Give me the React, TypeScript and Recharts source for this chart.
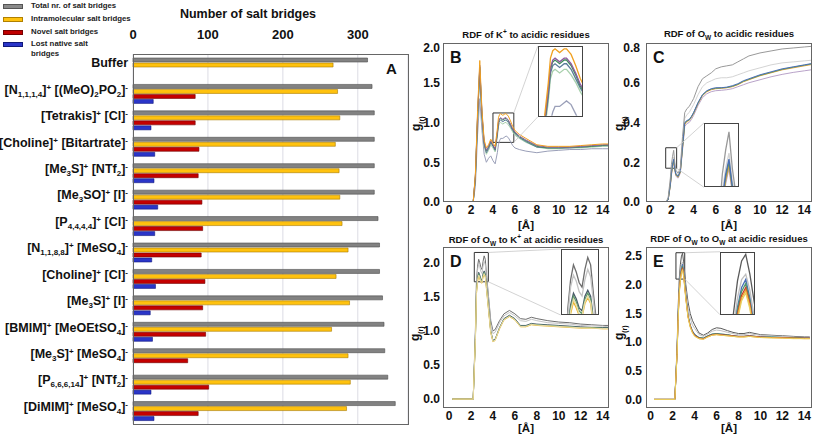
import React from 'react'
import {
  BarChart, Bar, LineChart, Line, XAxis, YAxis, CartesianGrid,
  ReferenceArea, ReferenceLine,
} from 'recharts'

const FONT = '"Liberation Sans", Arial, sans-serif'

// ── Panel A: salt bridges per ionic liquid ───────────────
const ionicLiquids = [
  'Buffer',
  '[N_{1,1,1,4}]^{+} [(MeO)_{2}PO_{2}]^{-}',
  '[Tetrakis]^{+} [Cl]^{-}',
  '[Choline]^{+} [Bitartrate]^{-}',
  '[Me_{3}S]^{+} [NTf_{2}]^{-}',
  '[Me_{3}SO]^{+} [I]^{-}',
  '[P_{4,4,4,4}]^{+} [Cl]^{-}',
  '[N_{1,1,8,8}]^{+} [MeSO_{4}]^{-}',
  '[Choline]^{+} [Cl]^{-}',
  '[Me_{3}S]^{+} [I]^{-}',
  '[BMIM]^{+} [MeOEtSO_{4}]^{-}',
  '[Me_{3}S]^{+} [MeSO_{4}]^{-}',
  '[P_{6,6,6,14}]^{+} [NTf_{2}]^{-}',
  '[DiMIM]^{+} [MeSO_{4}]^{-}',
]
const totalBridges = [313, 319, 322, 322, 322, 322, 327, 329, 329, 333, 335, 336, 340, 350]
const intraBridges = [267, 273, 276, 270, 275, 276, 279, 287, 271, 289, 265, 287, 290, 285]
const novelBridges = [null, 83, 83, 88, 87, 92, 93, 91, 96, 93, 97, 73, 101, 87]
const lostBridges = [null, 27, 24, 29, 28, 33, 29, 25, 30, 23, 26, null, 24, 28]
const bridgeTicks = [0, 100, 200, 300]

// ── Panel B: RDF of K+ to acidic residues ────────────────
const rB = [2.2, 2.4, 2.6, 2.8, 3.0, 3.2, 3.4, 3.6, 3.8, 4.0, 4.2, 4.4, 4.5, 4.6, 4.7, 4.9, 5.1, 5.2, 5.4, 5.6, 5.8, 6.0, 6.4, 7, 8, 9, 10, 11, 12, 13, 14, 14.5]
const bOrange = [0, 0.35, 1.15, 1.78, 1.15, 0.78, 0.68, 0.72, 0.79, 0.74, 0.7, 0.92, 1.06, 1.1, 1.11, 1.09, 1.11, 1.11, 1.08, 1.02, 0.95, 0.9, 0.85, 0.8, 0.72, 0.7, 0.7, 0.7, 0.71, 0.72, 0.73, 0.73]
const bPurple = [0, 0.33, 1.1, 1.72, 1.12, 0.75, 0.65, 0.7, 0.77, 0.72, 0.67, 0.88, 1.01, 1.05, 1.06, 1.04, 1.06, 1.06, 1.03, 0.98, 0.92, 0.88, 0.83, 0.78, 0.71, 0.69, 0.69, 0.69, 0.7, 0.71, 0.72, 0.72]
const bGreen = [0, 0.32, 1.08, 1.7, 1.1, 0.74, 0.64, 0.69, 0.76, 0.71, 0.66, 0.87, 1.0, 1.04, 1.05, 1.03, 1.05, 1.05, 1.02, 0.97, 0.91, 0.87, 0.82, 0.77, 0.7, 0.68, 0.68, 0.69, 0.69, 0.7, 0.71, 0.72]
const bSlate = [0, 0.31, 1.05, 1.68, 1.08, 0.72, 0.62, 0.67, 0.75, 0.7, 0.65, 0.85, 0.98, 1.02, 1.03, 1.01, 1.03, 1.03, 1.0, 0.95, 0.9, 0.86, 0.81, 0.76, 0.69, 0.68, 0.68, 0.68, 0.69, 0.7, 0.71, 0.71]
const bMint = [0, 0.3, 1.02, 1.62, 1.04, 0.7, 0.6, 0.65, 0.72, 0.68, 0.63, 0.82, 0.95, 0.99, 1.0, 0.98, 1.0, 1.0, 0.97, 0.93, 0.88, 0.84, 0.8, 0.75, 0.69, 0.67, 0.67, 0.68, 0.68, 0.69, 0.7, 0.7]
const bBuffer = [0, 0.2, 0.85, 1.3, 0.9, 0.6, 0.5, 0.55, 0.58, 0.52, 0.48, 0.62, 0.72, 0.77, 0.8, 0.8, 0.82, 0.83, 0.81, 0.76, 0.71, 0.68, 0.66, 0.64, 0.62, 0.64, 0.65, 0.66, 0.66, 0.67, 0.67, 0.67]

// ── Panel C: RDF of Ow to acidic residues ────────────────
const rC = [0, 1.5, 1.7, 1.9, 2.0, 2.1, 2.2, 2.3, 2.4, 2.6, 2.8, 3.0, 3.2, 3.4, 3.6, 3.8, 4.0, 4.4, 4.8, 5.2, 5.6, 6.0, 6.5, 7.0, 7.5, 8.0, 8.5, 9.0, 10, 11, 12, 13, 14, 15]
const cBuffer = [0, 0, 0.02, 0.12, 0.19, 0.23, 0.26, 0.2, 0.16, 0.145, 0.17, 0.33, 0.45, 0.47, 0.48, 0.5, 0.52, 0.58, 0.62, 0.635, 0.65, 0.67, 0.68, 0.685, 0.69, 0.705, 0.72, 0.735, 0.75, 0.76, 0.77, 0.775, 0.78, 0.785]
const cLight = [0, 0, 0.015, 0.1, 0.16, 0.2, 0.225, 0.18, 0.15, 0.135, 0.16, 0.3, 0.42, 0.44, 0.45, 0.47, 0.49, 0.54, 0.58, 0.6, 0.61, 0.62, 0.625, 0.625, 0.63, 0.64, 0.65, 0.66, 0.675, 0.69, 0.7, 0.705, 0.71, 0.715]
const cBlue = [0, 0, 0.012, 0.09, 0.15, 0.19, 0.215, 0.17, 0.14, 0.13, 0.155, 0.28, 0.4, 0.41, 0.415, 0.43, 0.45, 0.5, 0.54, 0.56, 0.57, 0.575, 0.575, 0.578, 0.585, 0.595, 0.61, 0.62, 0.64, 0.655, 0.67, 0.68, 0.69, 0.7]
const cGreen = [0, 0, 0.011, 0.088, 0.145, 0.185, 0.21, 0.168, 0.138, 0.128, 0.152, 0.275, 0.395, 0.408, 0.412, 0.428, 0.448, 0.498, 0.538, 0.558, 0.568, 0.572, 0.574, 0.576, 0.582, 0.592, 0.607, 0.617, 0.637, 0.652, 0.667, 0.678, 0.688, 0.698]
const cOrange = [0, 0, 0.01, 0.085, 0.14, 0.18, 0.205, 0.165, 0.135, 0.125, 0.15, 0.27, 0.39, 0.405, 0.41, 0.425, 0.445, 0.495, 0.535, 0.555, 0.565, 0.57, 0.572, 0.575, 0.58, 0.59, 0.605, 0.615, 0.635, 0.65, 0.665, 0.675, 0.685, 0.695]
const cPurple = [0, 0, 0.01, 0.08, 0.135, 0.175, 0.2, 0.16, 0.13, 0.12, 0.145, 0.26, 0.38, 0.395, 0.4, 0.415, 0.435, 0.485, 0.525, 0.545, 0.555, 0.56, 0.562, 0.565, 0.57, 0.58, 0.59, 0.6, 0.615, 0.63, 0.642, 0.652, 0.66, 0.668]

// ── Panel D: RDF of Ow to K+ at acidic residues ──────────
const rD = [0.3, 2.2, 2.4, 2.5, 2.6, 2.7, 2.8, 2.9, 3.0, 3.1, 3.2, 3.3, 3.4, 3.6, 3.8, 4.0, 4.2, 4.6, 5.0, 5.5, 6.0, 6.5, 7.0, 7.5, 8.0, 9, 10, 11, 12, 13, 14, 14.5]
const dBuffer = [0, 0, 1.0, 1.75, 1.95, 2.05, 2.0, 1.93, 1.9, 2.02, 2.1, 2.05, 1.85, 1.5, 1.15, 1.0, 1.02, 1.15, 1.25, 1.3, 1.25, 1.18, 1.17, 1.2, 1.18, 1.15, 1.13, 1.12, 1.1, 1.09, 1.08, 1.08]
const dLight = [0, 0, 0.95, 1.7, 1.9, 1.98, 1.94, 1.87, 1.84, 1.95, 2.02, 1.97, 1.8, 1.45, 1.1, 0.96, 0.98, 1.12, 1.22, 1.27, 1.22, 1.15, 1.14, 1.17, 1.15, 1.12, 1.11, 1.1, 1.08, 1.07, 1.07, 1.06]
const dSlate = [0, 0, 0.9, 1.6, 1.78, 1.86, 1.82, 1.76, 1.74, 1.84, 1.88, 1.84, 1.68, 1.35, 1.0, 0.86, 0.88, 1.05, 1.18, 1.23, 1.18, 1.08, 1.08, 1.11, 1.1, 1.09, 1.08, 1.07, 1.06, 1.05, 1.05, 1.05]
const dGreen = [0, 0, 0.88, 1.58, 1.76, 1.84, 1.8, 1.74, 1.72, 1.82, 1.86, 1.82, 1.66, 1.33, 0.99, 0.85, 0.87, 1.04, 1.17, 1.22, 1.17, 1.07, 1.07, 1.1, 1.09, 1.08, 1.07, 1.06, 1.05, 1.05, 1.04, 1.04]
const dYellow = [0, 0, 0.86, 1.55, 1.72, 1.8, 1.76, 1.71, 1.7, 1.79, 1.83, 1.79, 1.63, 1.3, 0.97, 0.84, 0.86, 1.03, 1.16, 1.21, 1.16, 1.06, 1.06, 1.09, 1.08, 1.07, 1.06, 1.05, 1.04, 1.04, 1.03, 1.03]
const dCream = [0, 0, 0.87, 1.56, 1.74, 1.82, 1.78, 1.72, 1.71, 1.8, 1.84, 1.8, 1.64, 1.31, 0.98, 0.845, 0.865, 1.035, 1.165, 1.215, 1.165, 1.065, 1.065, 1.095, 1.085, 1.075, 1.065, 1.055, 1.045, 1.04, 1.035, 1.035]

// ── Panel E: RDF of Ow to Ow at acidic residues ──────────
const rE = [0.3, 2.2, 2.4, 2.5, 2.6, 2.7, 2.8, 2.9, 3.0, 3.2, 3.4, 3.6, 3.8, 4.0, 4.4, 4.8, 5.2, 5.6, 6.0, 6.4, 7.0, 7.5, 8.0, 8.5, 9.0, 9.5, 10, 11, 12, 13, 14, 14.5]
const eBuffer = [0, 0, 0.9, 1.6, 2.1, 2.35, 2.5, 2.55, 2.4, 2.0, 1.7, 1.5, 1.38, 1.3, 1.16, 1.12, 1.16, 1.22, 1.25, 1.24, 1.2, 1.17, 1.15, 1.15, 1.17, 1.15, 1.13, 1.12, 1.11, 1.1, 1.09, 1.09]
const eLight = [0, 0, 0.85, 1.5, 2.0, 2.22, 2.36, 2.4, 2.28, 1.9, 1.6, 1.42, 1.3, 1.24, 1.13, 1.1, 1.14, 1.19, 1.21, 1.2, 1.17, 1.15, 1.13, 1.13, 1.15, 1.13, 1.12, 1.11, 1.1, 1.09, 1.08, 1.08]
const eBlue = [0, 0, 0.82, 1.45, 1.92, 2.15, 2.3, 2.36, 2.22, 1.82, 1.47, 1.3, 1.2, 1.14, 1.08, 1.07, 1.11, 1.14, 1.15, 1.14, 1.13, 1.11, 1.1, 1.1, 1.11, 1.1, 1.09, 1.09, 1.08, 1.08, 1.07, 1.07]
const eGreen = [0, 0, 0.81, 1.44, 1.9, 2.13, 2.27, 2.33, 2.2, 1.8, 1.46, 1.29, 1.19, 1.13, 1.08, 1.07, 1.11, 1.14, 1.15, 1.14, 1.13, 1.11, 1.1, 1.1, 1.11, 1.1, 1.09, 1.09, 1.08, 1.08, 1.07, 1.07]
const eRed = [0, 0, 0.8, 1.42, 1.88, 2.1, 2.24, 2.3, 2.18, 1.78, 1.45, 1.28, 1.18, 1.12, 1.07, 1.06, 1.1, 1.13, 1.14, 1.13, 1.12, 1.11, 1.1, 1.1, 1.11, 1.1, 1.09, 1.08, 1.08, 1.07, 1.07, 1.07]
const eOrange = [0, 0, 0.79, 1.4, 1.86, 2.08, 2.22, 2.28, 2.16, 1.76, 1.44, 1.27, 1.17, 1.11, 1.06, 1.05, 1.09, 1.12, 1.13, 1.12, 1.11, 1.1, 1.09, 1.09, 1.1, 1.09, 1.08, 1.08, 1.07, 1.07, 1.06, 1.06]
const eYellow = [0, 0, 0.78, 1.38, 1.84, 2.06, 2.2, 2.26, 2.14, 1.75, 1.43, 1.26, 1.16, 1.1, 1.06, 1.05, 1.09, 1.12, 1.13, 1.12, 1.11, 1.1, 1.09, 1.09, 1.1, 1.09, 1.08, 1.07, 1.07, 1.06, 1.06, 1.06]

const rdfTicks = [0, 2, 4, 6, 8, 10, 12, 14]

// builds rows {r, s0, s1, ...} for recharts
const rows = (r: number[], series: number[][]) =>
  r.map((v, i) => {
    const row: any = { r: v }
    series.forEach((s, k) => { row['s' + k] = s[i] })
    return row
  })

const barRows = ionicLiquids.map((name, i) => ({
  name,
  total: totalBridges[i],
  intra: intraBridges[i],
  novel: novelBridges[i],
  lost: lostBridges[i],
}))

// ── label with _{sub} and ^{sup} markup ──────────────────
function parseMarkup(s: string) {
  const parts: { t: string; k: 'n' | 'sub' | 'sup' }[] = []
  const re = /([_^])\{([^}]*)\}/g
  let last = 0
  let m: RegExpExecArray | null
  while ((m = re.exec(s))) {
    if (m.index > last) parts.push({ t: s.slice(last, m.index), k: 'n' })
    parts.push({ t: m[2], k: m[1] === '_' ? 'sub' : 'sup' })
    last = m.index + m[0].length
  }
  if (last < s.length) parts.push({ t: s.slice(last), k: 'n' })
  return parts
}

const IonTick = ({ x, y, payload }: any) => {
  const parts = parseMarkup(payload.value)
  let cur = 0
  return (
    <text x={x} y={y} dy="0.36em" textAnchor="end" fontFamily={FONT} fontWeight="bold"
      fontSize={12.5} fill="#111">
      {parts.map((p, i) => {
        const target = p.k === 'sub' ? 3 : p.k === 'sup' ? -4 : 0
        const dy = target - cur
        cur = target
        return (
          <tspan key={i} dy={dy} fontSize={p.k === 'n' ? 12.5 : 8}>{p.t}</tspan>
        )
      })}
    </text>
  )
}

// ── Panel A ──────────────────────────────────────────────
const legendItems = [
  { label: 'Total nr. of salt bridges', fill: '#8a8a8a', stroke: '#555' },
  { label: 'Intramolecular salt bridges', fill: '#ffc20e', stroke: '#b08000' },
  { label: 'Novel salt bridges', fill: '#c00000', stroke: '#700' },
  { label: 'Lost native salt', fill: '#2a35c8', stroke: '#10187a' },
]

function SaltBridgePanel() {
  return (
    <>
      {legendItems.map((it, i) => (
        <div key={it.label} style={{ position: 'absolute', left: 3, top: [2, 15, 28, 40][i], height: 10 }}>
          <div style={{ position: 'absolute', left: 0, top: 2, width: 18, height: 3,
            background: it.fill, border: `1px solid ${it.stroke}` }} />
          <div style={{ position: 'absolute', left: 28, top: -1, whiteSpace: 'nowrap',
            fontSize: 7.8, fontWeight: 'bold', color: '#222', lineHeight: '10px' }}>
            {it.label}
            {i === 3 && <br />}
            {i === 3 && 'bridges'}
          </div>
        </div>
      ))}
      <div style={{ position: 'absolute', left: 130, width: 236, top: 7, textAlign: 'center',
        fontSize: 12.5, fontWeight: 'bold', color: '#111' }}>
        Number of salt bridges
      </div>
      <div style={{ position: 'absolute', left: 0, top: 0 }}>
        <BarChart width={410} height={430} data={barRows} layout="vertical"
          margin={{ top: 24, right: 2, left: 0, bottom: 6 }}
          barCategoryGap={4} barGap={1} barSize={4}>
          <CartesianGrid horizontal={false} stroke="#dcdce4" />
          <XAxis type="number" orientation="top" domain={[0, 367]} ticks={bridgeTicks}
            height={30} axisLine={false} tickLine={false} tickSize={0} tickMargin={15}
            tick={{ fontSize: 13, fontWeight: 'bold', fill: '#111', fontFamily: FONT }} />
          <YAxis type="category" dataKey="name" width={133} axisLine={false} tickLine={false}
            tickSize={0} tickMargin={5} interval={0} tick={<IonTick />} />
          <Bar dataKey="total" fill="#828282" stroke="#4e4e4e" strokeWidth={0.6} isAnimationActive={false} />
          <Bar dataKey="intra" fill="#ffc20e" stroke="#a87a00" strokeWidth={0.6} isAnimationActive={false} />
          <Bar dataKey="novel" fill="#c40000" stroke="#6e0000" strokeWidth={0.6} isAnimationActive={false} />
          <Bar dataKey="lost" fill="#2a35c8" stroke="#121a80" strokeWidth={0.6} isAnimationActive={false} />
        </BarChart>
      </div>
      <div style={{ position: 'absolute', left: 133, top: 54, width: 274, height: 369,
        border: '1px solid #666', pointerEvents: 'none' }} />
      <div style={{ position: 'absolute', left: 386, top: 60, fontSize: 15, fontWeight: 'bold', color: '#111' }}>A</div>
    </>
  )
}

// ── RDF panels ───────────────────────────────────────────
type Box = { x1: number; x2: number; y1: number; y2: number }
interface RdfProps {
  left: number; top: number; width: number; height: number
  yAxisWidth: number; marginTop: number; marginRight: number
  xDomain: [number, number]; yDomain: [number, number]; yTicks: number[]
  yTickMargin: number
  data: any[]; colors: string[]
  zoom: Box; inset: Box
  letter: string
  title: React.ReactNode; titleTop: number
  axisLabelTop: number; gLabel: { x: number; y: number }
}

const XH = 20

function RdfPanel(p: RdfProps) {
  const plotL = p.left + p.yAxisWidth
  const plotT = p.top + p.marginTop
  const plotW = p.width - p.yAxisWidth - p.marginRight
  const plotH = p.height - p.marginTop - XH
  const px = (x: number) => plotL + (x - p.xDomain[0]) / (p.xDomain[1] - p.xDomain[0]) * plotW
  const py = (y: number) => plotT + (p.yDomain[1] - y) / (p.yDomain[1] - p.yDomain[0]) * plotH
  const iL = px(p.inset.x1), iR = px(p.inset.x2), iT = py(p.inset.y2), iB = py(p.inset.y1)
  const keys = p.colors.map((_, k) => 's' + k)
  const tickStyle = { fontSize: 12, fontWeight: 'bold', fill: '#111', fontFamily: FONT }

  return (
    <>
      <div style={{ position: 'absolute', left: plotL - 40, width: plotW + 80, top: p.titleTop,
        textAlign: 'center', fontSize: 9.5, fontWeight: 'bold', color: '#111', whiteSpace: 'nowrap' }}>
        {p.title}
      </div>
      <div style={{ position: 'absolute', left: p.left, top: p.top }}>
        <LineChart width={p.width} height={p.height} data={p.data}
          margin={{ top: p.marginTop, right: p.marginRight, left: 0, bottom: 0 }}>
          <XAxis type="number" dataKey="r" domain={p.xDomain} allowDataOverflow ticks={rdfTicks}
            height={XH} axisLine={false} tickLine={false} tickSize={0} tickMargin={3} tick={tickStyle} />
          <YAxis type="number" domain={p.yDomain} allowDataOverflow ticks={p.yTicks} width={p.yAxisWidth}
            axisLine={false} tickLine={false} tickSize={0} tickMargin={p.yTickMargin}
            tickFormatter={(v: number) => v.toFixed(1)} tick={tickStyle} />
          {keys.map((k, i) => (
            <Line key={k} dataKey={k} type="linear" stroke={p.colors[i]} strokeWidth={1}
              dot={false} isAnimationActive={false} />
          ))}
          <ReferenceArea x1={p.zoom.x1} x2={p.zoom.x2} y1={p.zoom.y1} y2={p.zoom.y2}
            fill="none" stroke="#333" strokeWidth={1} />
          <ReferenceLine segment={[{ x: p.zoom.x2, y: p.zoom.y2 }, { x: p.inset.x1, y: p.inset.y2 }]}
            stroke="#c8c8c8" strokeWidth={0.8} />
          <ReferenceLine segment={[{ x: p.zoom.x2, y: p.zoom.y1 }, { x: p.inset.x1, y: p.inset.y1 }]}
            stroke="#c8c8c8" strokeWidth={0.8} />
        </LineChart>
      </div>
      <div style={{ position: 'absolute', left: plotL, top: plotT, width: plotW - 2, height: plotH - 2,
        border: '1px solid #666', pointerEvents: 'none' }} />
      <div style={{ position: 'absolute', left: iL, top: iT, width: iR - iL - 2, height: iB - iT - 2,
        border: '1px solid #444', background: '#fff', overflow: 'hidden' }}>
        <LineChart width={iR - iL - 2} height={iB - iT - 2} data={p.data}
          margin={{ top: 0, right: 0, left: 0, bottom: 0 }}>
          <XAxis type="number" dataKey="r" domain={[p.zoom.x1, p.zoom.x2]} allowDataOverflow hide />
          <YAxis type="number" domain={[p.zoom.y1, p.zoom.y2]} allowDataOverflow hide />
          {keys.map((k, i) => (
            <Line key={k} dataKey={k} type="linear" stroke={p.colors[i]} strokeWidth={1.3}
              dot={false} isAnimationActive={false} />
          ))}
        </LineChart>
      </div>
      <div style={{ position: 'absolute', left: plotL + 7, top: plotT + 6, fontSize: 16,
        fontWeight: 'bold', color: '#111' }}>{p.letter}</div>
      <div style={{ position: 'absolute', left: plotL, width: plotW, top: p.axisLabelTop,
        textAlign: 'center', fontSize: 11.5, fontWeight: 'bold', color: '#111', lineHeight: '12px' }}>[Å]</div>
      <div style={{ position: 'absolute', left: p.gLabel.x - 20, top: p.gLabel.y - 8, width: 40,
        textAlign: 'center', transform: 'rotate(-90deg)', fontSize: 12, fontWeight: 'bold',
        color: '#111', lineHeight: '16px' }}>
        g<sub style={{ fontSize: 7 }}>(r)</sub>
      </div>
    </>
  )
}

const subW = <sub style={{ fontSize: 6.5 }}>W</sub>
const supPlus = <sup style={{ fontSize: 6.5 }}>+</sup>

export default function App() {
  return (
    <div style={{ position: 'absolute', left: 0, top: 0, width: 813, height: 435, background: '#fff',
      fontFamily: FONT, overflow: 'hidden' }}>
      <SaltBridgePanel />
      <RdfPanel left={410} top={40} width={203} height={182} yAxisWidth={33} marginTop={3} marginRight={4}
        xDomain={[-0.55, 14.57]} yDomain={[0, 2]} yTicks={[0, 0.5, 1, 1.5, 2]} yTickMargin={3}
        data={rows(rB, [bBuffer, bMint, bSlate, bGreen, bPurple, bOrange])}
        colors={['#9a9fb8', '#a8d0ac', '#5b7c99', '#3f8f5a', '#8e5a9e', '#f0a020']}
        zoom={{ x1: 4.0, x2: 5.9, y1: 0.75, y2: 1.12 }} inset={{ x1: 8.08, x2: 12.23, y1: 1.07, y2: 1.96 }}
        letter="B" title={<>RDF of K{supPlus} to acidic residues</>} titleTop={28}
        axisLabelTop={219} gLabel={{ x: 419, y: 121 }} />
      <RdfPanel left={613} top={40} width={200} height={182} yAxisWidth={33} marginTop={3} marginRight={1}
        xDomain={[-0.3, 14.7]} yDomain={[0, 0.8]} yTicks={[0, 0.2, 0.4, 0.6, 0.8]} yTickMargin={6}
        data={rows(rC, [cPurple, cLight, cOrange, cGreen, cBlue, cBuffer])}
        colors={['#b9a3c9', '#d4d4d4', '#e8a33c', '#6a9a5a', '#4a6fb5', '#999999']}
        zoom={{ x1: 1.48, x2: 2.47, y1: 0.17, y2: 0.273 }} inset={{ x1: 4.94, x2: 8.1, y1: 0.074, y2: 0.398 }}
        letter="C" title={<>RDF of O{subW} to acidic residues</>} titleTop={28}
        axisLabelTop={219} gLabel={{ x: 622, y: 121 }} />
      <RdfPanel left={410} top={245} width={203} height={183} yAxisWidth={33} marginTop={2} marginRight={4}
        xDomain={[-0.55, 14.57]} yDomain={[-0.13, 2.23]} yTicks={[0, 0.5, 1, 1.5, 2]} yTickMargin={3}
        data={rows(rD, [dBuffer, dLight, dSlate, dGreen, dYellow, dCream])}
        colors={['#6e6e6e', '#c4c4c4', '#4b5a6a', '#5f9a6e', '#eab52a', '#e6dba8']}
        zoom={{ x1: 2.3, x2: 3.58, y1: 1.72, y2: 2.15 }} inset={{ x1: 10.17, x2: 13.69, y1: 1.233, y2: 2.2 }}
        letter="D" title={<>RDF of O{subW} to K{supPlus} at acidic residues</>} titleTop={233}
        axisLabelTop={422} gLabel={{ x: 418, y: 331 }} />
      <RdfPanel left={613} top={245} width={200} height={183} yAxisWidth={33} marginTop={2} marginRight={1}
        xDomain={[-0.43, 14.7]} yDomain={[-0.15, 2.66]} yTicks={[0, 0.5, 1, 1.5, 2, 2.5]} yTickMargin={4}
        data={rows(rE, [eBuffer, eLight, eBlue, eGreen, eRed, eOrange, eYellow])}
        colors={['#5a5a5a', '#c0c0c0', '#4a6fb5', '#4f9a6a', '#c0392b', '#f0a030', '#e8d060']}
        zoom={{ x1: 2.3, x2: 3.1, y1: 2.1, y2: 2.56 }} inset={{ x1: 6.32, x2: 9.51, y1: 1.478, y2: 2.577 }}
        letter="E" title={<>RDF of O{subW} to O{subW} at acidic residues</>} titleTop={233}
        axisLabelTop={422} gLabel={{ x: 622, y: 330 }} />
    </div>
  )
}
